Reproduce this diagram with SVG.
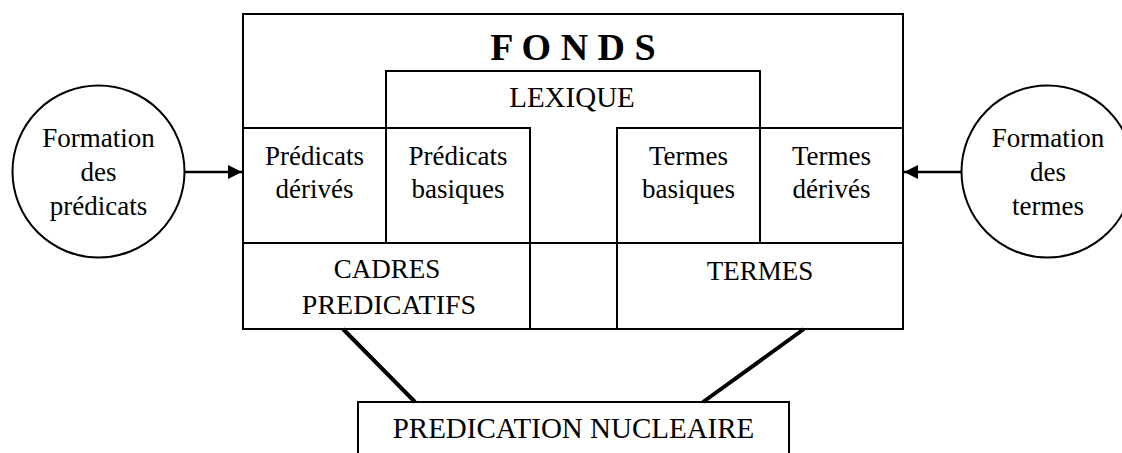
<svg xmlns="http://www.w3.org/2000/svg" width="1122" height="453" viewBox="0 0 1122 453">
<style>
.box{fill:none;stroke:#000;stroke-width:2}
.t{font-family:"Liberation Serif","Times New Roman",serif;font-size:27px;fill:#000;text-anchor:middle}
.caps{font-size:29px}
.title{font-family:"Liberation Serif","Times New Roman",serif;font-size:38px;font-weight:bold;fill:#000;text-anchor:middle}
.link{stroke:#000;stroke-width:4;fill:none}
.arrow{stroke:#000;stroke-width:2.5;fill:none}
</style>
<defs>
<marker id="ah" viewBox="0 0 10 10" refX="10" refY="5" markerWidth="6" markerHeight="5.6" markerUnits="strokeWidth" orient="auto">
<path d="M0,0 L10,5 L0,10 Z" fill="#000"/>
</marker>
</defs>
<rect width="1122" height="453" fill="#fff"/>
<g id="fonds">
<rect class="box" x="243" y="14" width="660" height="315"/>
<text class="title" x="573" y="60">F O N D S</text>
<rect class="box" x="530" y="243" width="87" height="86"/>
</g>
<g id="lexique">
<rect class="box" x="386" y="71" width="374" height="172"/>
<text class="t caps" x="572" y="107">LEXIQUE</text>
</g>
<g id="predicats-derives">
<rect class="box" x="243" y="128" width="143" height="115"/>
<text class="t" x="314.5" y="165">Prédicats</text>
<text class="t" x="314.5" y="198">dérivés</text>
</g>
<g id="predicats-basiques">
<rect class="box" x="386" y="128" width="144" height="115"/>
<text class="t" x="458" y="165">Prédicats</text>
<text class="t" x="458" y="198">basiques</text>
</g>
<g id="termes-basiques">
<rect class="box" x="617" y="128" width="143" height="115"/>
<text class="t" x="688.5" y="165">Termes</text>
<text class="t" x="688.5" y="198">basiques</text>
</g>
<g id="termes-derives">
<rect class="box" x="760" y="128" width="143" height="115"/>
<text class="t" x="831.5" y="165">Termes</text>
<text class="t" x="831.5" y="198">dérivés</text>
</g>
<g id="cadres-predicatifs">
<rect class="box" x="243" y="243" width="287" height="86"/>
<text class="t" x="387" y="278">CADRES</text>
<text class="t" x="389" y="314" style="font-size:28px">PREDICATIFS</text>
</g>
<g id="termes">
<rect class="box" x="617" y="243" width="286" height="86"/>
<text class="t" x="760" y="280">TERMES</text>
</g>
<g id="predication-nucleaire">
<rect class="box" x="358" y="402" width="431" height="70"/>
<text class="t caps" x="573.5" y="438">PREDICATION NUCLEAIRE</text>
</g>
<g id="formation-predicats">
<circle class="box" cx="98.5" cy="171.5" r="86"/>
<text class="t" x="98.5" y="147">Formation</text>
<text class="t" x="98.5" y="181">des</text>
<text class="t" x="98.5" y="215">prédicats</text>
</g>
<g id="formation-termes">
<circle class="box" cx="1047.5" cy="171.5" r="86"/>
<text class="t" x="1048" y="147">Formation</text>
<text class="t" x="1048" y="181">des</text>
<text class="t" x="1048" y="215">termes</text>
</g>
<g id="connectors">
<line class="arrow" x1="184.5" y1="172" x2="242" y2="172" marker-end="url(#ah)"/>
<line class="arrow" x1="961.5" y1="172" x2="904" y2="172" marker-end="url(#ah)"/>
<line class="link" x1="343" y1="329" x2="415" y2="402"/>
<line class="link" x1="804" y1="329" x2="703" y2="402"/>
</g>
</svg>
